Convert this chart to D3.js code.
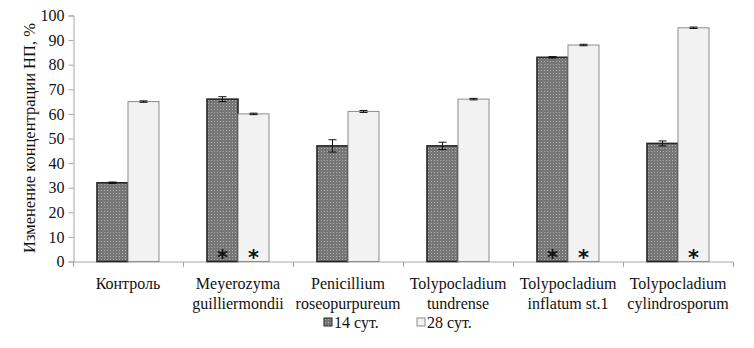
<!DOCTYPE html>
<html>
<head>
<meta charset="utf-8">
<script src="https://cdn.jsdelivr.net/npm/d3@7"></script>
<style>
  body { margin: 0; background: #fff; }
</style>
</head>
<body>
<div id="root"></div>
<script>
// data
const categories = [
  ["Контроль"],
  ["Meyerozyma", "guilliermondii"],
  ["Penicillium", "roseopurpureum"],
  ["Tolypocladium", "tundrense"],
  ["Tolypocladium", "inflatum st.1"],
  ["Tolypocladium", "cylindrosporum"]
];
const seriesNames = ["14 сут.", "28 сут."];
const values14 = [32, 66, 47, 47, 83, 48];
const values28 = [65, 60, 61, 66, 88, 95];
const err14 = [0.3, 1, 2.5, 1.5, 0.3, 1];
const err28 = [0.3, 0.3, 0.4, 0.3, 0.3, 0.3];
const star14 = [false, true, false, false, true, false];
const star28 = [false, true, false, false, true, true];
const yTicks = [0, 10, 20, 30, 40, 50, 60, 70, 80, 90, 100];

const FONT = 'Liberation Serif';
const W = 754, H = 348;
const svg = d3.select('#root').append('svg')
  .attr('width', W).attr('height', H)
  .attr('font-family', FONT);

const defs = svg.append('defs');
const pat = defs.append('pattern')
  .attr('id', 'dots').attr('patternUnits', 'userSpaceOnUse')
  .attr('width', 3).attr('height', 3);
pat.append('rect').attr('width', 3).attr('height', 3).attr('fill', '#767676');
pat.append('rect').attr('x', 1).attr('y', 1).attr('width', 1).attr('height', 1).attr('fill', '#b0b0b0');

const keys = categories.map((c, i) => i);
const x0 = d3.scaleBand().domain(keys).range([73, 733]).padding(0);
const x1 = d3.scaleBand().domain(seriesNames).range([0, x0.bandwidth()])
  .paddingInner(0).paddingOuter(0.774);
const y = d3.scaleLinear().domain([0, 100]).range([261.5, 15.5]);

const rows = keys.map(i => [
  { s: seriesNames[0], v: values14[i], e: err14[i], star: star14[i] },
  { s: seriesNames[1], v: values28[i], e: err28[i], star: star28[i] }
]);

// y axis
const yAxis = svg.append('g')
  .attr('transform', 'translate(73.5,0)')
  .call(d3.axisLeft(y).tickValues(yTicks).tickSize(5).tickPadding(4))
  .attr('font-family', FONT).attr('font-size', 16);
yAxis.select('.domain').attr('stroke', '#a6a6a6');
yAxis.selectAll('.tick line').attr('stroke', '#a6a6a6');
yAxis.selectAll('.tick text').attr('fill', '#111');

// x axis with ticks on category boundaries
const xg = svg.append('g').attr('transform', `translate(0,${y(0) + 0.5})`);
xg.append('line').attr('x1', 73).attr('x2', 733).attr('stroke', '#a6a6a6');
const edges = keys.map(i => x0(i)).concat([x0(keys.length - 1) + x0.bandwidth()]);
xg.selectAll('line.t').data(edges)
  .enter().append('line').attr('class', 't')
  .attr('x1', d => d + 0.5).attr('x2', d => d + 0.5)
  .attr('y1', 0).attr('y2', 5).attr('stroke', '#a6a6a6');

// bars
const grp = svg.selectAll('.cat').data(rows).enter().append('g')
  .attr('class', 'cat')
  .attr('transform', (d, i) => `translate(${x0(i)},0)`);

grp.selectAll('rect').data(d => d).enter().append('rect')
  .attr('x', d => x1(d.s))
  .attr('y', d => y(d.v))
  .attr('width', x1.bandwidth())
  .attr('height', d => y(0) - y(d.v))
  .attr('fill', (d, j) => j === 0 ? 'url(#dots)' : '#f2f2f2')
  .attr('stroke', (d, j) => j === 0 ? '#262626' : '#8c8c8c')
  .attr('stroke-width', (d, j) => j === 0 ? 1.6 : 1);

// error bars
const eb = grp.selectAll('g.err').data(d => d).enter().append('g').attr('class', 'err');
eb.append('line')
  .attr('x1', d => x1(d.s) + x1.bandwidth() / 2).attr('x2', d => x1(d.s) + x1.bandwidth() / 2)
  .attr('y1', d => y(d.v + d.e)).attr('y2', d => y(d.v - d.e))
  .attr('stroke', '#111');
eb.selectAll('line.cap').data(d => [d.v + d.e, d.v - d.e].map(v => ({ s: d.s, v })))
  .enter().append('line').attr('class', 'cap')
  .attr('x1', d => x1(d.s) + x1.bandwidth() / 2 - 4).attr('x2', d => x1(d.s) + x1.bandwidth() / 2 + 4)
  .attr('y1', d => y(d.v)).attr('y2', d => y(d.v))
  .attr('stroke', '#111');

// significance marks
grp.selectAll('text.star').data(d => d.filter(e => e.star)).enter().append('text')
  .attr('class', 'star')
  .attr('x', d => x1(d.s) + x1.bandwidth() / 2)
  .attr('y', y(0) + 3)
  .attr('text-anchor', 'middle')
  .attr('font-family', 'DejaVu Sans')
  .attr('font-weight', 'bold')
  .attr('font-size', 21)
  .attr('fill', '#111')
  .text('*');

// category labels
const lab = svg.selectAll('text.cl').data(categories).enter().append('text')
  .attr('class', 'cl')
  .attr('text-anchor', 'middle')
  .attr('fill', '#111')
  .attr('font-family', FONT)
  .attr('font-size', 16)
  .attr('transform', (d, i) => `translate(${x0(i) + x0.bandwidth() / 2},289)`);
lab.selectAll('tspan').data(d => d).enter().append('tspan')
  .attr('x', 0).attr('dy', (d, j) => j === 0 ? 0 : 20)
  .text(d => d);

// y label
svg.append('text')
  .attr('transform', 'translate(35,138) rotate(-90)')
  .attr('text-anchor', 'middle')
  .attr('fill', '#111')
  .attr('font-family', FONT)
  .attr('font-size', 16.5)
  .text('Изменение концентрации НП, %');

// legend
const lg = svg.append('g').attr('transform', 'translate(324,318)');
const items = lg.selectAll('g').data(seriesNames).enter().append('g')
  .attr('transform', (d, i) => `translate(${i * 93},0)`);
items.append('rect').attr('width', 8).attr('height', 8)
  .attr('fill', (d, i) => i === 0 ? 'url(#dots)' : '#f2f2f2')
  .attr('stroke', (d, i) => i === 0 ? '#262626' : '#8c8c8c');
items.append('text').attr('x', 10).attr('y', 9.5)
  .attr('fill', '#111')
  .attr('font-family', FONT)
  .attr('font-size', 16).text(d => d);
</script>
</body>
</html>
